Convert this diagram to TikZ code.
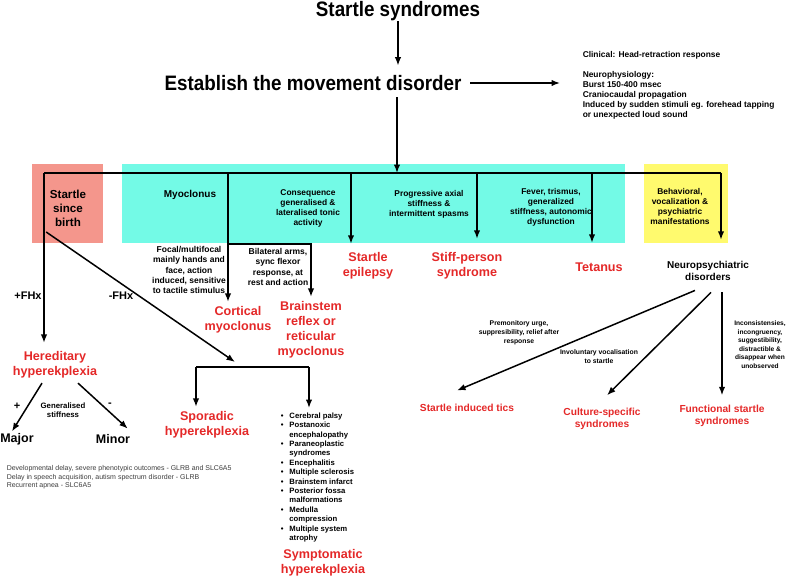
\documentclass[tikz,border=0pt]{standalone}
\usepackage{fontspec}
\setmainfont{Liberation Sans}
\newfontfamily\headfont[FakeStretch=0.9]{Liberation Sans}
\usepackage{tikz}
\usetikzlibrary{positioning,arrows.meta}
\definecolor{salmon}{RGB}{244,150,140}
\definecolor{aqua}{RGB}{115,250,230}
\definecolor{lemon}{RGB}{255,250,110}
\definecolor{dxred}{RGB}{228,40,40}
\definecolor{genegray}{RGB}{60,60,60}

\begin{document}
\begin{tikzpicture}[x=1pt,y=-1pt,>={Latex[length=8.5pt,width=6.5pt]},line width=1.5pt,
  every node/.style={inner sep=0pt,align=center},
  head/.style={font=\headfont\bfseries\fontsize{20.9}{24}\selectfont},
  dx/.style={text=dxred,font=\bfseries\fontsize{12.6}{15}\selectfont},
  dxsmall/.style={text=dxred,font=\bfseries\fontsize{10.2}{12.5}\selectfont},
  boxtext/.style={font=\bfseries\fontsize{8.4}{10}\selectfont},
  feature/.style={font=\bfseries\fontsize{8.5}{10.2}\selectfont},
  note/.style={font=\bfseries\fontsize{6.8}{9}\selectfont},
  sign/.style={font=\bfseries\fontsize{11}{13}\selectfont}]
\useasboundingbox (0,0) rectangle (787,576);

\node[fill=salmon,minimum width=71pt,minimum height=79pt] (birthbox) at (67.5,203.5) {};
\node[fill=aqua,minimum width=503pt,minimum height=79pt] (band) at (373.5,203.5) {};
\node[fill=lemon,minimum width=84pt,minimum height=79pt] (behavbox) at (686,203.5) {};

\node[head] (start) at (398,11) {Startle syndromes};
\node[head] (establish) at (313,83) {Establish the movement disorder};
\node[anchor=north west,align=left,font=\bfseries\fontsize{8.4}{10}\selectfont] (clinical) at (582,51) {Clinical: Head-retraction response\\[10pt]Neurophysiology:\\Burst 150-400 msec\\Craniocaudal propagation\\Induced by sudden stimuli eg. forehead tapping\\or unexpected loud sound};

\node[font=\bfseries\fontsize{11.6}{14}\selectfont] (birth) at (68,208) {Startle\\since\\birth};
\node[font=\bfseries\fontsize{10}{12}\selectfont] (myoclonus) at (190,195) {Myoclonus};
\node[boxtext] (tonic) at (308,208) {Consequence\\generalised \&\\lateralised tonic\\activity};
\node[boxtext] (axial) at (429,204) {Progressive axial\\stiffness \&\\intermittent spasms};
\node[boxtext] (fever) at (551,207.5) {Fever, trismus,\\generalized\\stiffness, autonomic\\dysfunction};
\node[boxtext] (behav) at (680,206.5) {Behavioral,\\vocalization \&\\psychiatric\\manifestations};

\node[feature] (focal) at (189,270) {Focal/multifocal\\mainly hands and\\face, action\\induced, sensitive\\to tactile stimulus};
\node[feature] (bilateral) at (278,267) {Bilateral arms,\\sync flexor\\response, at\\rest and action};

\node[dx] (cortical) at (238,320) {Cortical\\myoclonus};
\node[dx] (brainstem) at (311,330) {Brainstem\\reflex or\\reticular\\myoclonus};
\node[dx] (epilepsy) at (368,266) {Startle\\epilepsy};
\node[dx] (sps) at (467,266) {Stiff-person\\syndrome};
\node[dx] (tetanus) at (599,267) {Tetanus};
\node[font=\bfseries\fontsize{10}{12}\selectfont] (neuro) at (708,271) {Neuropsychiatric\\disorders};

\node[dx] (hered) at (55,365) {Hereditary\\hyperekplexia};
\node[dx] (sporadic) at (207,425) {Sporadic\\hyperekplexia};
\node[dx] (symptomatic) at (323,563) {Symptomatic\\hyperekplexia};

\node[dxsmall] (tics) at (467,408) {Startle induced tics};
\node[dxsmall] (culture) at (602,419) {Culture-specific\\syndromes};
\node[dxsmall] (functional) at (722,416) {Functional startle\\syndromes};

\node[sign] (plusfhx) at (28,296) {+FHx};
\node[sign] (minusfhx) at (121,296) {-FHx};
\node[sign] (plus) at (17,406) {+};
\node[sign] (minus) at (110,405) {-};
\node[font=\bfseries\fontsize{7.8}{9}\selectfont] (generalised) at (63,410) {Generalised\\stiffness};
\node[font=\bfseries\fontsize{12.5}{15}\selectfont] (major) at (17,439) {Major};
\node[font=\bfseries\fontsize{12.5}{15}\selectfont] (minor) at (113,439) {Minor};

\node[note] (urge) at (519,333) {Premonitory urge,\\suppresibility, relief after\\response};
\node[note] (vocal) at (599,357) {Involuntary vocalisation\\to startle};
\node[font=\bfseries\fontsize{6.6}{8.5}\selectfont] (incons) at (760,344.5) {Inconsistensies,\\incongruency,\\suggestibility,\\distractible \&\\disappear when\\unobserved};

\node[anchor=north west,font=\bfseries\fontsize{7.7}{9.4}\selectfont] (causes) at (280,411) {\begin{tabular}{@{}l@{\hspace{6pt}}l@{}}
\textbullet & Cerebral palsy\\
\textbullet & Postanoxic\\
 & encephalopathy\\
\textbullet & Paraneoplastic\\
 & syndromes\\
\textbullet & Encephalitis\\
\textbullet & Multiple sclerosis\\
\textbullet & Brainstem infarct\\
\textbullet & Posterior fossa\\
 & malformations\\
\textbullet & Medulla\\
 & compression\\
\textbullet & Multiple system\\
 & atrophy
\end{tabular}};

\node[anchor=north west,align=left,text=genegray,font=\fontsize{7}{8.5}\selectfont] (genes) at (6,465) {Developmental delay, severe phenotypic outcomes - GLRB and SLC6A5\\Delay in speech acquisition, autism spectrum disorder - GLRB\\Recurrent apnea - SLC6A5};

\coordinate (busL) at (44,173);
\coordinate (busR) at (721,173);
\coordinate (busIn) at (397,173);
\coordinate (busMyo) at (228,173);
\coordinate (busEpi) at (351,173);
\coordinate (busSps) at (477,173);
\coordinate (busTet) at (592,173);
\coordinate (split) at (235,362);
\coordinate (splitL) at (196,367);
\coordinate (splitR) at (309,367);

\draw[->,shorten >=9pt] (start.south) -- (start.south |- establish.north);
\draw[->,shorten <=8pt,shorten >=22pt] (establish.east) -- (establish.east -| clinical.west);
\draw[->,shorten <=6pt] (establish.south -| busIn) -- (busIn);
\draw (busL) -- (busR);

\draw[->,shorten >=8pt] (busL) -- (busL |- hered.north);
\draw[->] ([shift={(-3pt,-5pt)}]birth.south west) -- (split);
\draw (splitL) -- (splitR);
\draw[->,shorten >=4pt] (splitL) -- (splitL |- sporadic.north);
\draw[->,shorten >=3pt] (splitR) -- (splitR |- causes.north);
\draw[->] ([shift={(-13pt,-4pt)}]hered.south) -- ([shift={(-5pt,1pt)}]major.north);
\draw[->] ([shift={(23pt,-4pt)}]hered.south) -- ([shift={(-3pt,5pt)}]minor.north east);

\draw[->,shorten >=4pt] (busMyo) -- (busMyo |- cortical.north);
\draw[->,shorten >=4pt] (busMyo |- band.south) -| (brainstem.north);
\draw[->] (busEpi) -- (busEpi |- band.south);
\draw[->,shorten >=5pt] (busSps) -- (busSps |- band.south);
\draw[->,shorten >=1pt] (busTet) -- (busTet |- band.south);
\draw[->,shorten >=4pt] (busR) -- (busR |- behavbox.south);

\draw[->] ([shift={(-13pt,-9pt)}]neuro.south) -- ([shift={(-10pt,13pt)}]tics.north);
\draw[->] ([shift={(3pt,-11pt)}]neuro.south) -- ([shift={(5pt,12pt)}]culture.north);
\draw[->,shorten >=9pt] ([shift={(14pt,-11pt)}]neuro.south) -- (functional.north);
\end{tikzpicture}
\end{document}
